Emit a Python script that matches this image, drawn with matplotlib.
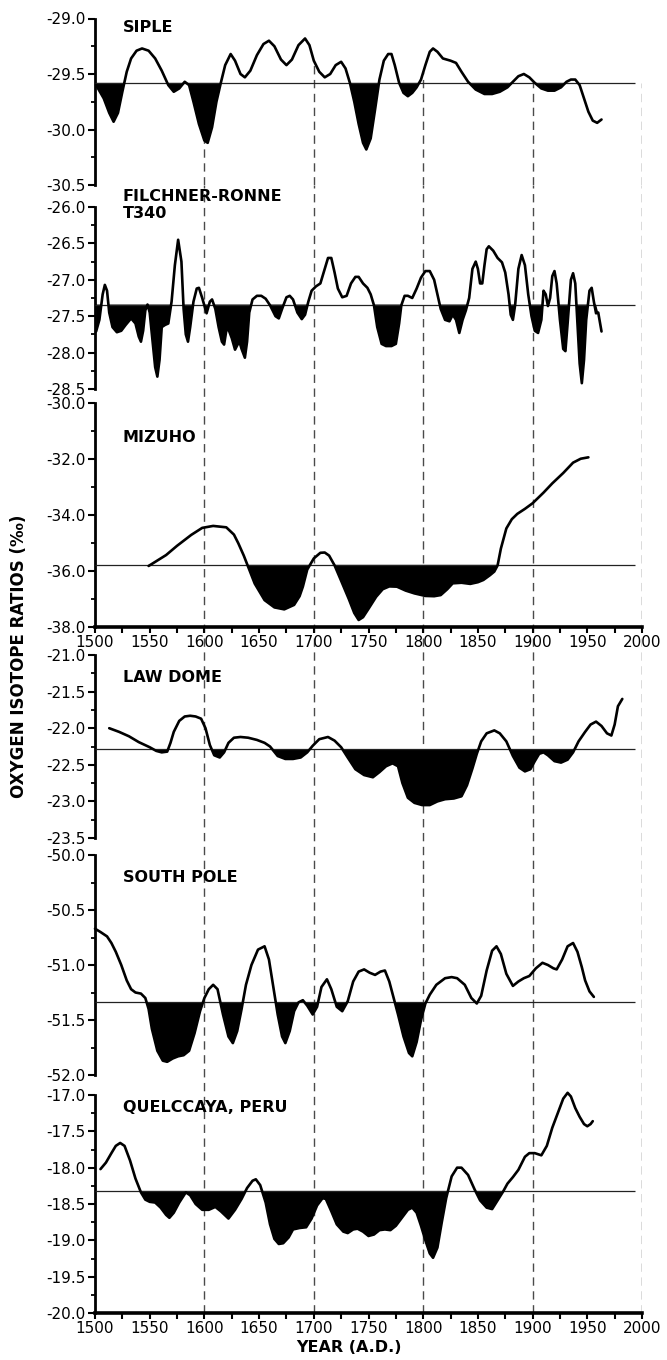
import numpy as np
import matplotlib
matplotlib.use("Agg")
import matplotlib.pyplot as plt
from matplotlib.ticker import MultipleLocator, FormatStrFormatter

plt.rcParams['font.family'] = ['DejaVu Sans']

# ---- data (year A.D., per mil) ----
siple_year = [1501, 1508, 1513, 1517, 1521, 1525, 1529, 1533, 1538, 1543, 1549, 1555, 1561, 1567,
              1572, 1577, 1582, 1586, 1590, 1595, 1600, 1603, 1607, 1611, 1615, 1619, 1624, 1628,
              1633, 1637, 1642, 1648, 1654, 1659, 1664, 1670, 1675, 1680, 1686, 1692, 1696, 1700,
              1705, 1710, 1715, 1720, 1725, 1729, 1733, 1737, 1741, 1745, 1748, 1752, 1756, 1760,
              1764, 1768, 1771, 1774, 1778, 1782, 1786, 1790, 1794, 1798, 1802, 1806, 1809, 1813,
              1818, 1825, 1830, 1835, 1841, 1848, 1856, 1863, 1870, 1877, 1882, 1887, 1892, 1897,
              1902, 1908, 1914, 1920, 1926, 1931, 1935, 1939, 1943, 1947, 1951, 1955, 1959, 1963]
siple_val = [-29.60, -29.72, -29.85, -29.93, -29.85, -29.66, -29.48, -29.36, -29.29, -29.27, -29.29,
             -29.36, -29.47, -29.60, -29.66, -29.63, -29.57, -29.60, -29.75, -29.95, -30.10, -30.12,
             -29.98, -29.75, -29.58, -29.42, -29.32, -29.38, -29.50, -29.53, -29.47, -29.33, -29.23,
             -29.20, -29.25, -29.37, -29.42, -29.37, -29.24, -29.18, -29.24, -29.38, -29.48, -29.53,
             -29.50, -29.42, -29.39, -29.45, -29.58, -29.75, -29.95, -30.12, -30.18, -30.08, -29.82,
             -29.55, -29.38, -29.32, -29.32, -29.42, -29.58, -29.67, -29.70, -29.67, -29.62, -29.55,
             -29.42, -29.30, -29.27, -29.30, -29.36, -29.38, -29.40, -29.48, -29.57, -29.64, -29.68,
             -29.68, -29.66, -29.62, -29.57, -29.52, -29.50, -29.53, -29.58, -29.63, -29.65, -29.65,
             -29.62, -29.57, -29.55, -29.55, -29.60, -29.72, -29.84, -29.92, -29.94, -29.91]
siple_ref = -29.58

filchner_year = [1501, 1504, 1507, 1509, 1511, 1513, 1516, 1520, 1524, 1528, 1533, 1537, 1540, 1542,
                 1544, 1546, 1548, 1550, 1553, 1555, 1557, 1559, 1561, 1564, 1567, 1570, 1573, 1576,
                 1579, 1581, 1583, 1585, 1587, 1590, 1593, 1595, 1598, 1602, 1605, 1607, 1610, 1613,
                 1616, 1618, 1620, 1622, 1625, 1628, 1630, 1632, 1634, 1637, 1639, 1641, 1644, 1648,
                 1652, 1656, 1660, 1665, 1668, 1671, 1675, 1678, 1681, 1685, 1689, 1692, 1695, 1698,
                 1702, 1706, 1710, 1713, 1716, 1719, 1722, 1726, 1730, 1734, 1738, 1741, 1745, 1749,
                 1752, 1755, 1758, 1762, 1766, 1771, 1775, 1778, 1780, 1783, 1786, 1790, 1794, 1798,
                 1802, 1806, 1810, 1813, 1816, 1820, 1824, 1827, 1830, 1833, 1836, 1839, 1842, 1845,
                 1848, 1850, 1852, 1854, 1856, 1858, 1860, 1864, 1868, 1872, 1875, 1878, 1880, 1882,
                 1884, 1887, 1890, 1893, 1896, 1899, 1902, 1905, 1908, 1910, 1912, 1914, 1916, 1918,
                 1920, 1922, 1925, 1928, 1930, 1932, 1935, 1937, 1939, 1941, 1943, 1945, 1947, 1949,
                 1952, 1954, 1956, 1958, 1960, 1963]
filchner_val = [-27.71, -27.55, -27.20, -27.07, -27.15, -27.45, -27.65, -27.72, -27.70, -27.62, -27.53,
                -27.60, -27.78, -27.85, -27.70, -27.42, -27.34, -27.45, -27.90, -28.20, -28.33, -28.10,
                -27.65, -27.62, -27.60, -27.30, -26.80, -26.45, -26.75, -27.40, -27.75, -27.85, -27.65,
                -27.30, -27.12, -27.11, -27.25, -27.46, -27.30, -27.27, -27.40, -27.65, -27.85, -27.89,
                -27.70, -27.68, -27.80, -27.96, -27.90, -27.85, -27.95, -28.07, -27.85, -27.45, -27.27,
                -27.22, -27.22, -27.26, -27.35, -27.50, -27.53, -27.40, -27.24, -27.22, -27.27, -27.45,
                -27.54, -27.48, -27.30, -27.15, -27.09, -27.05, -26.85, -26.70, -26.70, -26.90, -27.12,
                -27.24, -27.22, -27.05, -26.96, -26.96, -27.05, -27.11, -27.20, -27.35, -27.65, -27.88,
                -27.91, -27.91, -27.88, -27.60, -27.35, -27.22, -27.22, -27.25, -27.12, -26.97, -26.88,
                -26.88, -27.00, -27.20, -27.40, -27.55, -27.57, -27.48, -27.55, -27.73, -27.55, -27.42,
                -27.25, -26.85, -26.75, -26.85, -27.05, -27.05, -26.80, -26.58, -26.54, -26.60, -26.70,
                -26.76, -26.90, -27.20, -27.48, -27.55, -27.35, -26.85, -26.66, -26.80, -27.20, -27.50,
                -27.70, -27.73, -27.55, -27.15, -27.20, -27.36, -27.25, -26.95, -26.88, -27.05, -27.55,
                -27.95, -27.98, -27.60, -27.00, -26.91, -27.05, -27.60, -28.15, -28.42, -28.10, -27.55,
                -27.15, -27.11, -27.30, -27.46, -27.45, -27.71]
filchner_ref = -27.34

mizuho_year = [1549, 1556, 1565, 1575, 1588, 1598, 1608, 1620, 1627, 1631, 1636, 1640, 1646, 1655,
               1664, 1673, 1682, 1687, 1690, 1694, 1700, 1706, 1710, 1714, 1719, 1725, 1732, 1737,
               1741, 1745, 1750, 1757, 1763, 1769, 1776, 1784, 1792, 1802, 1810, 1816, 1822, 1827,
               1835, 1843, 1850, 1855, 1861, 1865, 1868, 1871, 1876, 1881, 1886, 1893, 1900, 1910,
               1918, 1928, 1937, 1944, 1951]
mizuho_val = [-35.82, -35.65, -35.43, -35.10, -34.71, -34.46, -34.39, -34.44, -34.70, -35.01, -35.45,
              -35.85, -36.45, -37.04, -37.30, -37.37, -37.21, -36.90, -36.56, -35.95, -35.55, -35.35,
              -35.34, -35.45, -35.80, -36.35, -37.00, -37.50, -37.75, -37.65, -37.35, -36.92, -36.65,
              -36.55, -36.56, -36.70, -36.80, -36.89, -36.90, -36.86, -36.65, -36.44, -36.42, -36.46,
              -36.40, -36.32, -36.15, -36.02, -35.80, -35.20, -34.48, -34.15, -33.96, -33.78, -33.58,
              -33.20, -32.87, -32.50, -32.13, -31.99, -31.94]
mizuho_ref = -35.78

lawdome_year = [1513, 1522, 1531, 1540, 1550, 1556, 1561, 1566, 1569, 1572, 1577, 1582, 1587, 1592,
                1597, 1601, 1605, 1609, 1614, 1618, 1622, 1627, 1633, 1640, 1648, 1655, 1660, 1667,
                1674, 1681, 1688, 1694, 1699, 1705, 1713, 1719, 1725, 1731, 1738, 1746, 1754, 1760,
                1766, 1772, 1777, 1781, 1786, 1792, 1799, 1806, 1813, 1820, 1828, 1835, 1840, 1845,
                1849, 1853, 1858, 1865, 1870, 1876, 1882, 1888, 1893, 1898, 1902, 1906, 1910, 1914,
                1920, 1926, 1932, 1937, 1942, 1948, 1953, 1958, 1963, 1968, 1972, 1975, 1978, 1982]
lawdome_val = [-22.00, -22.05, -22.11, -22.19, -22.26, -22.31, -22.33, -22.32, -22.20, -22.05, -21.90,
               -21.84, -21.83, -21.84, -21.87, -22.00, -22.23, -22.37, -22.40, -22.33, -22.20, -22.13,
               -22.12, -22.13, -22.16, -22.20, -22.25, -22.38, -22.42, -22.42, -22.40, -22.33, -22.24,
               -22.15, -22.12, -22.17, -22.26, -22.40, -22.56, -22.64, -22.67, -22.60, -22.52, -22.48,
               -22.52, -22.75, -22.95, -23.02, -23.05, -23.05, -23.00, -22.97, -22.96, -22.93, -22.78,
               -22.55, -22.35, -22.18, -22.07, -22.03, -22.07, -22.18, -22.38, -22.54, -22.59, -22.56,
               -22.45, -22.35, -22.33, -22.37, -22.45, -22.47, -22.43, -22.33, -22.18, -22.05, -21.95,
               -21.91, -21.97, -22.07, -22.10, -21.95, -21.70, -21.60]
lawdome_ref = -22.29

southpole_year = [1500, 1505, 1511, 1515, 1519, 1524, 1529, 1533, 1537, 1542, 1546, 1549, 1552, 1557,
                  1562, 1566, 1571, 1576, 1581, 1586, 1591, 1596, 1600, 1604, 1608, 1612, 1617, 1622,
                  1626, 1630, 1634, 1638, 1643, 1649, 1655, 1659, 1663, 1667, 1671, 1674, 1678, 1682,
                  1686, 1690, 1694, 1699, 1703, 1707, 1712, 1716, 1721, 1726, 1731, 1736, 1741, 1746,
                  1751, 1756, 1761, 1765, 1769, 1773, 1777, 1782, 1787, 1790, 1794, 1798, 1802, 1806,
                  1812, 1820, 1826, 1831, 1838, 1844, 1849, 1853, 1858, 1863, 1867, 1871, 1876, 1882,
                  1887, 1892, 1897, 1903, 1909, 1914, 1919, 1922, 1927, 1932, 1937, 1941, 1945, 1948,
                  1952, 1956]
southpole_val = [-50.67, -50.70, -50.74, -50.80, -50.88, -51.00, -51.14, -51.22, -51.25, -51.26, -51.30,
                 -51.40, -51.58, -51.78, -51.87, -51.88, -51.85, -51.83, -51.82, -51.78, -51.62, -51.42,
                 -51.30, -51.22, -51.18, -51.22, -51.45, -51.65, -51.71, -51.60, -51.40, -51.18, -51.00,
                 -50.86, -50.83, -50.95, -51.20, -51.45, -51.65, -51.71, -51.60, -51.42, -51.34, -51.32,
                 -51.37, -51.45, -51.38, -51.20, -51.13, -51.22, -51.38, -51.42, -51.33, -51.15, -51.06,
                 -51.04, -51.07, -51.09, -51.06, -51.05, -51.15, -51.30, -51.45, -51.65, -51.80, -51.83,
                 -51.70, -51.50, -51.35, -51.27, -51.18, -51.12, -51.11, -51.12, -51.18, -51.30, -51.35,
                 -51.28, -51.05, -50.87, -50.83, -50.90, -51.08, -51.19, -51.15, -51.12, -51.10, -51.03,
                 -50.98, -51.00, -51.03, -51.04, -50.95, -50.83, -50.80, -50.88, -51.02, -51.14, -51.24,
                 -51.29]
southpole_ref = -51.34

quelccaya_year = [1505, 1510, 1515, 1519, 1523, 1527, 1532, 1537, 1542, 1546, 1550, 1555, 1560, 1565,
                  1568, 1572, 1577, 1583, 1587, 1592, 1598, 1604, 1610, 1615, 1622, 1628, 1634, 1639,
                  1644, 1647, 1651, 1656, 1660, 1664, 1668, 1672, 1677, 1681, 1687, 1693, 1698, 1703,
                  1708, 1711, 1716, 1721, 1727, 1731, 1736, 1740, 1745, 1750, 1755, 1760, 1765, 1770,
                  1775, 1780, 1786, 1790, 1794, 1798, 1802, 1806, 1809, 1813, 1817, 1821, 1826, 1831,
                  1835, 1841, 1847, 1852, 1858, 1863, 1868, 1873, 1877, 1882, 1887, 1893, 1897, 1902,
                  1908, 1913, 1918, 1923, 1928, 1932, 1935, 1939, 1943, 1947, 1950, 1953, 1955]
quelccaya_val = [-18.02, -17.93, -17.80, -17.70, -17.66, -17.70, -17.90, -18.15, -18.34, -18.44, -18.47,
                 -18.48, -18.55, -18.65, -18.69, -18.62, -18.48, -18.34, -18.38, -18.50, -18.58, -18.58,
                 -18.54, -18.60, -18.70, -18.58, -18.43, -18.28, -18.18, -18.16, -18.24, -18.48, -18.78,
                 -18.98, -19.05, -19.04, -18.96, -18.85, -18.83, -18.82, -18.70, -18.52, -18.42, -18.43,
                 -18.60, -18.78, -18.88, -18.90, -18.85, -18.84, -18.88, -18.94, -18.92, -18.86, -18.85,
                 -18.86, -18.80, -18.70, -18.58, -18.55, -18.62, -18.80, -19.00, -19.18, -19.24, -19.10,
                 -18.75, -18.42, -18.12, -18.00, -18.00, -18.10, -18.30, -18.45, -18.55, -18.57, -18.45,
                 -18.33, -18.22, -18.13, -18.03, -17.85, -17.80, -17.80, -17.83, -17.70, -17.45, -17.25,
                 -17.05, -16.97, -17.02, -17.18, -17.30, -17.40, -17.43, -17.40, -17.36]
quelccaya_ref = -18.32

grid_years = [1600, 1700, 1800, 1900, 2000]

# ---- layout (pixels of a 667 x 1360 canvas) ----
W, H = 667, 1360
X0, X1 = 95, 642
REF_END = 1994

def rect(top, bottom):
    return [X0 / W, 1 - bottom / H, (X1 - X0) / W, (bottom - top) / H]

# name, years, values, reference, ylim, tick step, (top px, bottom px), title y px, x axis, shading stops
panels = [
    ("SIPLE", siple_year, siple_val, siple_ref, (-30.5, -29.0), 0.5, (18.5, 185), 27, False, 1940),
    ("FILCHNER-RONNE\nT340", filchner_year, filchner_val, filchner_ref, (-28.5, -26.0), 0.5, (207, 389), 205, False, 1958),
    ("MIZUHO", mizuho_year, mizuho_val, mizuho_ref, (-38.0, -30.0), 2.0, (403, 627), 438, True, 2000),
    ("LAW DOME", lawdome_year, lawdome_val, lawdome_ref, (-23.5, -21.0), 0.5, (655, 838), 678, False, 2000),
    ("SOUTH POLE", southpole_year, southpole_val, southpole_ref, (-52.0, -50.0), 0.5, (855, 1075), 878, False, 2000),
    ("QUELCCAYA, PERU", quelccaya_year, quelccaya_val, quelccaya_ref, (-20.0, -17.0), 0.5, (1095, 1313), 1108, True, 2000),
]

fig = plt.figure(figsize=(W / 100, H / 100), dpi=100)
fig.patch.set_facecolor('white')

dash = (0, (6, 4))
dash_col = '#4a4a4a'

# dashed century lines running through all lower panels
bg = fig.add_axes(rect(185, 1313), zorder=0)
bg.set_xlim(1500, 2000)
bg.set_ylim(0, 1)
bg.axis('off')
bg.vlines(grid_years, 0, 1, colors=dash_col, linestyles=dash, linewidth=1.0)

for i, (name, yr, val, ref, ylim, major, box, ty, xaxis, fill_end) in enumerate(panels):
    yr = np.array(yr)
    val = np.array(val)
    ax = fig.add_axes(rect(*box), zorder=1)
    ax.patch.set_alpha(0)
    ax.set_xlim(1500, 2000)
    ax.set_ylim(*ylim)

    if i == 0:
        gx = np.array(grid_years)
        tops = np.where(gx <= yr[-1], np.interp(gx, yr, val), ref)
        ax.vlines(gx, ylim[0], tops, colors=dash_col, linestyles=dash, linewidth=1.0)

    ax.fill_between(yr, val, ref, where=(val < ref) & (yr <= fill_end), interpolate=True,
                    color='black', linewidth=0, zorder=3)
    ax.hlines(ref, 1500, REF_END, colors='#222222', linewidth=0.9, zorder=4)
    ax.plot(yr, val, color='black', linewidth=1.9, solid_joinstyle='round',
            solid_capstyle='round', clip_on=False, zorder=5)

    for s in ('top', 'right'):
        ax.spines[s].set_visible(False)
    ax.spines['left'].set_linewidth(2.0)
    ax.yaxis.set_major_locator(MultipleLocator(major))
    ax.yaxis.set_minor_locator(MultipleLocator(major / 2))
    ax.yaxis.set_major_formatter(FormatStrFormatter('%.1f'))
    ax.tick_params(axis='y', which='major', direction='out', length=5, width=1.5,
                   labelsize=11, pad=2)
    ax.tick_params(axis='y', which='minor', direction='out', length=3, width=1.3)

    if xaxis:
        ax.spines['bottom'].set_linewidth(2.6)
        ax.xaxis.set_major_locator(MultipleLocator(50))
        ax.xaxis.set_minor_locator(MultipleLocator(25))
        ax.xaxis.set_major_formatter(FormatStrFormatter('%d'))
        ax.tick_params(axis='x', which='both', direction='out', length=4, width=1.5,
                       labelsize=11, pad=2)
    else:
        ax.spines['bottom'].set_visible(False)
        ax.set_xticks([])

    fig.text((X0 + 28) / W, 1 - ty / H, name, ha='left', va='center',
             fontsize=11.5, fontweight='bold', linespacing=1.15)

fig.text(19 / W, 1 - 656 / H, 'OXYGEN ISOTOPE RATIOS (‰)', rotation=90,
         ha='center', va='center', fontsize=12, fontweight='bold')
fig.text(349 / W, 1 - 1348 / H, 'YEAR (A.D.)', ha='center', va='center',
         fontsize=11.5, fontweight='bold')

fig.savefig('out.png', dpi=100)
